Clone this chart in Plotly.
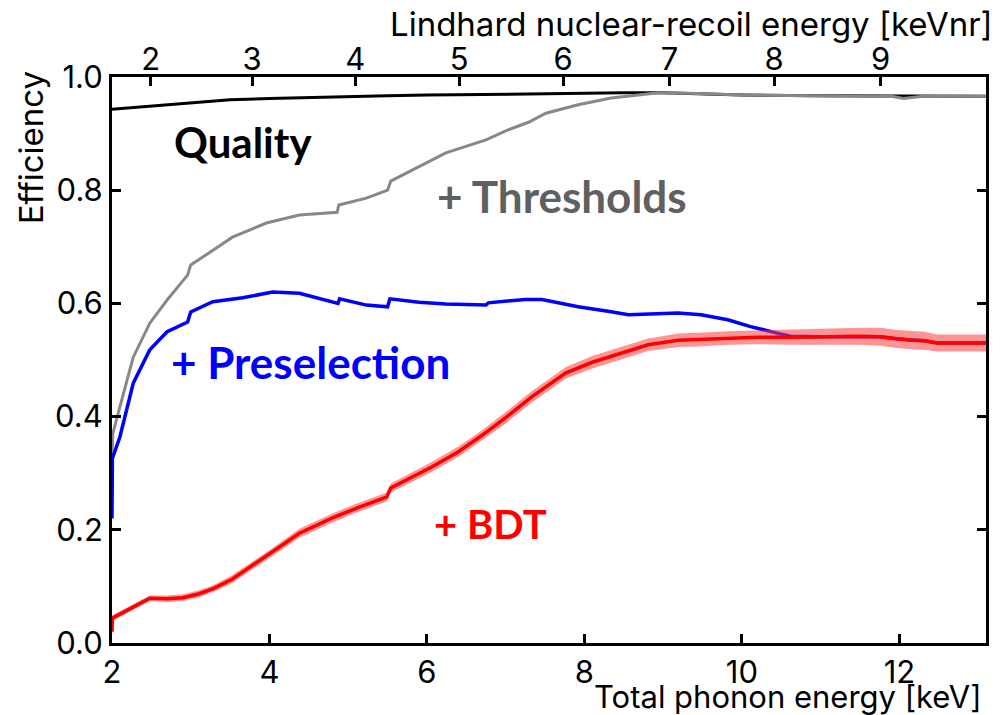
import plotly.graph_objects as go

# ---- data -------------------------------------------------------------
# Quality cut efficiency vs total phonon energy [keV]
quality_e = [2.0, 2.5, 3.0, 3.5, 4.0, 4.5, 5.0, 5.5, 6.0, 6.5, 7.0, 7.5, 8.0,
             8.5, 9.0, 9.5, 10.0, 11.0, 12.0, 13.1]
quality_eff = [0.943, 0.949, 0.955, 0.960, 0.962, 0.964, 0.965, 0.967, 0.968,
               0.969, 0.970, 0.971, 0.972, 0.972, 0.972, 0.970, 0.968, 0.967,
               0.966, 0.966]

# + Thresholds
thresh_e = [2.0, 2.01, 2.1, 2.27, 2.48, 2.70, 2.96, 3.0, 3.24, 3.53, 3.96, 4.38,
            4.86, 4.88, 5.23, 5.50, 5.54, 5.9, 6.24, 6.75, 7.0, 7.29, 7.51, 7.92,
            8.34, 8.94, 9.44, 10.0, 10.5, 11.0, 11.5, 11.9, 12.05, 12.3, 13.1]
thresh_eff = [0.33, 0.37, 0.417, 0.505, 0.565, 0.606, 0.650, 0.668, 0.690, 0.717,
              0.742, 0.756, 0.761, 0.774, 0.786, 0.800, 0.816, 0.842, 0.866,
              0.889, 0.905, 0.920, 0.936, 0.951, 0.963, 0.972, 0.971, 0.968,
              0.967, 0.967, 0.966, 0.966, 0.962, 0.966, 0.966]

# + Preselection
presel_e = [2.0, 2.005, 2.1, 2.27, 2.48, 2.70, 2.96, 3.0, 3.28, 3.66, 4.04, 4.38,
            4.87, 4.89, 5.23, 5.50, 5.53, 5.9, 6.24, 6.75, 6.78, 7.25, 7.46,
            7.92, 8.3, 8.56, 9.19, 9.48, 9.82, 10.11, 10.46, 10.62, 11.0, 11.5,
            11.76, 11.97, 12.32, 12.48, 13.1]
presel_eff = [0.22, 0.326, 0.364, 0.459, 0.518, 0.550, 0.567, 0.585, 0.603,
              0.610, 0.620, 0.618, 0.600, 0.608, 0.597, 0.594, 0.608, 0.602,
              0.599, 0.597, 0.601, 0.607, 0.607, 0.594, 0.586, 0.580, 0.583,
              0.580, 0.571, 0.559, 0.547, 0.542, 0.541, 0.542, 0.541, 0.537,
              0.534, 0.530, 0.530]

# + BDT, with its uncertainty band
bdt_e = [2.0, 2.005, 2.25, 2.48, 2.70, 2.9, 3.11, 3.3, 3.53, 3.75, 4.0, 4.38,
         4.80, 5.1, 5.49, 5.54, 6.06, 6.4, 6.70, 7.0, 7.33, 7.76, 8.1, 8.39,
         8.81, 9.19, 9.44, 9.82, 10.2, 10.62, 11.0, 11.5, 11.76, 11.97, 12.15,
         12.32, 12.48, 13.1]
bdt_eff = [0.02, 0.044, 0.062, 0.079, 0.078, 0.080, 0.087, 0.097, 0.113, 0.134,
           0.157, 0.194, 0.221, 0.238, 0.258, 0.274, 0.311, 0.338, 0.367, 0.398,
           0.435, 0.477, 0.496, 0.509, 0.527, 0.535, 0.536, 0.539, 0.540, 0.540,
           0.541, 0.542, 0.541, 0.537, 0.535, 0.534, 0.530, 0.530]
bdt_err = [0.004, 0.005, 0.005, 0.005, 0.006, 0.006, 0.006, 0.006, 0.007, 0.007,
           0.007, 0.008, 0.008, 0.008, 0.008, 0.008, 0.009, 0.009, 0.009, 0.010,
           0.010, 0.010, 0.011, 0.011, 0.011, 0.012, 0.012, 0.012, 0.012, 0.013,
           0.014, 0.015, 0.016, 0.016, 0.016, 0.016, 0.015, 0.015]

# secondary axis: Lindhard nuclear-recoil energy ticks and the
# total phonon energy each one corresponds to
lindhard_labels = ["2", "3", "4", "5", "6", "7", "8", "9"]
lindhard_at_phonon = [2.49, 3.78, 5.09, 6.41, 7.73, 9.08, 10.41, 11.76]

x_ticks = [2, 4, 6, 8, 10, 12]
y_ticks = [0.0, 0.2, 0.4, 0.6, 0.8, 1.0]

x_range = [2.0, 13.1]

# ---- figure -----------------------------------------------------------
FAMILY = "Inter, Liberation Sans, Arial"
TICK_FONT = dict(family=FAMILY, size=31, color="black")
TITLE_FONT = dict(family=FAMILY, size=33, color="black")
LBL_FONT = "Lato, Noto Sans, sans-serif"

fig = go.Figure()

fig.add_trace(go.Scatter(x=quality_e, y=quality_eff, mode="lines",
                         line=dict(color="black", width=3)))
fig.add_trace(go.Scatter(x=thresh_e, y=thresh_eff, mode="lines",
                         line=dict(color="#888888", width=3)))
fig.add_trace(go.Scatter(x=presel_e, y=presel_eff, mode="lines",
                         line=dict(color="#0000ff", width=3.5)))

bdt_lo = [v - e for v, e in zip(bdt_eff, bdt_err)]
bdt_hi = [v + e for v, e in zip(bdt_eff, bdt_err)]
fig.add_trace(go.Scatter(x=bdt_e, y=bdt_lo, mode="lines",
                         line=dict(width=0, color="rgba(255,0,0,0)")))
fig.add_trace(go.Scatter(x=bdt_e, y=bdt_hi, mode="lines", fill="tonexty",
                         fillcolor="rgba(255,60,60,0.55)",
                         line=dict(width=0, color="rgba(255,0,0,0)")))
fig.add_trace(go.Scatter(x=bdt_e, y=bdt_eff, mode="lines",
                         line=dict(color="#ff0000", width=3.5)))

# carrier for the top axis
fig.add_trace(go.Scatter(x=x_range, y=[None, None], xaxis="x2", mode="lines",
                         hoverinfo="skip"))

# curve labels
labels = [
    ("Quality", 3.66, 0.885, 42, "black"),
    ("+ Thresholds", 7.72, 0.790, 44, "#606060"),
    ("+ Preselection", 4.52, 0.496, 44, "#0000ff"),
    ("+ BDT", 6.81, 0.211, 40, "#ff0000"),
]
for text, lx, ly, size, col in labels:
    fig.add_annotation(x=lx, y=ly, text=f"<b>{text}</b>", showarrow=False,
                       xanchor="center", yanchor="middle",
                       font=dict(family=LBL_FONT, size=size, color=col))

# axis titles
fig.add_annotation(xref="paper", yref="paper", x=0.998, y=-0.095,
                   text="Total phonon energy [keV]", showarrow=False,
                   xanchor="right", yanchor="middle",
                   font=dict(family=FAMILY, size=31, color="black"))
fig.add_annotation(xref="paper", yref="paper", x=1.010, y=1.094,
                   text="Lindhard nuclear-recoil energy [keVnr]",
                   showarrow=False, xanchor="right", yanchor="middle",
                   font=TITLE_FONT)
fig.add_annotation(xref="paper", yref="paper", x=-0.0924, y=0.8746,
                   text="Efficiency", showarrow=False, textangle=-90,
                   xanchor="center", yanchor="middle", font=TITLE_FONT)

axis_common = dict(showgrid=False, zeroline=False, showline=True,
                   linecolor="black", linewidth=3, ticks="inside",
                   ticklen=9, tickwidth=3, tickcolor="black",
                   tickfont=TICK_FONT)

fig.update_layout(
    width=1000, height=715,
    margin=dict(l=112, r=11, t=77, b=72),
    plot_bgcolor="white", paper_bgcolor="white",
    showlegend=False,
    xaxis=dict(range=x_range, tickvals=x_ticks, mirror=True,
               ticklabelstandoff=0, **axis_common),
    xaxis2=dict(range=x_range, overlaying="x", side="top",
                tickvals=lindhard_at_phonon, ticktext=lindhard_labels,
                ticklabelstandoff=-8, **axis_common),
    yaxis=dict(range=[0, 1], tickvals=y_ticks, ticktext=[f"{v:.1f}" for v in y_ticks],
               mirror="ticks", ticklabelstandoff=0, **axis_common),
)

fig.write_html("out.html")
